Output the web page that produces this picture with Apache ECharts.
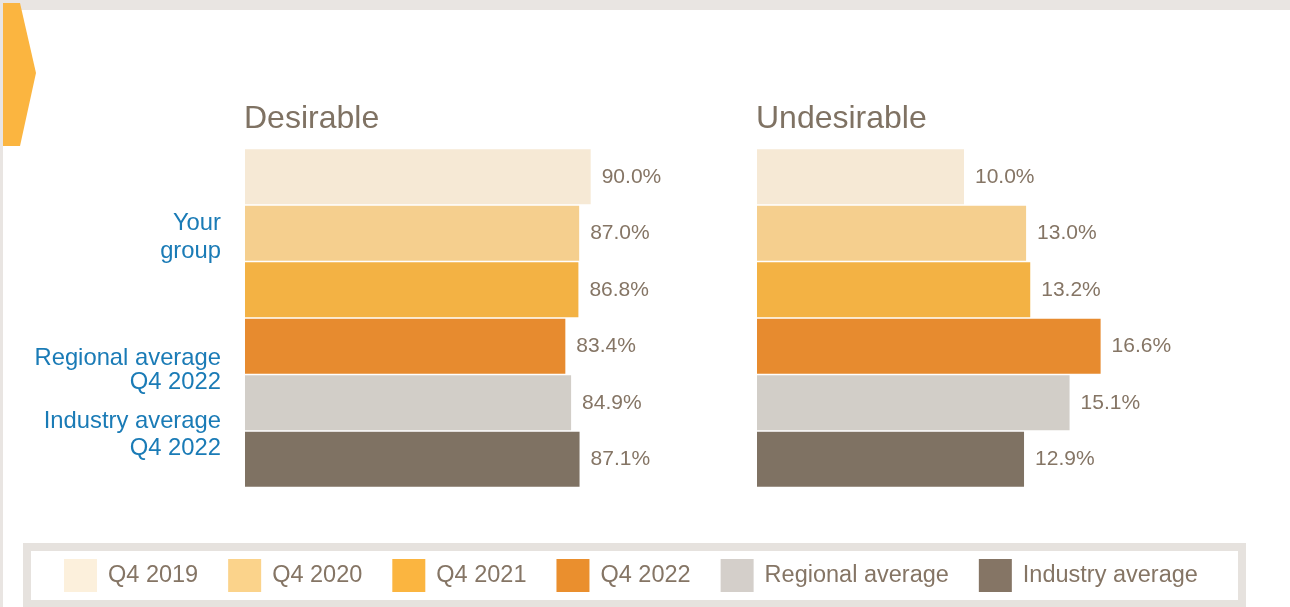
<!DOCTYPE html>
<html><head><meta charset="utf-8">
<script src="https://cdn.jsdelivr.net/npm/echarts@6/dist/echarts.min.js"></script>
<style>html,body{margin:0;padding:0;background:#fff}#c{width:1290px;height:607px}</style>
</head><body><div id="c"></div>
<script>
// ---- data ----
const groups = ['Q4 2019', 'Q4 2020', 'Q4 2021', 'Q4 2022', 'Regional average', 'Industry average'];
const desirable = [90.0, 87.0, 86.8, 83.4, 84.9, 87.1];
const undesirable = [10.0, 13.0, 13.2, 16.6, 15.1, 12.9];
const panelTitles = ['Desirable', 'Undesirable'];
const rowLabelText = ['', 'Your\ngroup', '', '', 'Regional average\nQ4 2022', 'Industry average\nQ4 2022'];

// ---- styles ----
const barColors = ['#f6e9d5', '#f5cf8e', '#f3b244', '#e78b2f', '#d2cec8', '#7f7263'];
const legendColors = ['#fcf0dc', '#fbd38b', '#fbb540', '#ea8f2e', '#d4cfca', '#857565'];
const textBrown = '#857565';
const labelBlue = '#1a7bb6';
const sans = "'Liberation Sans',Arial,sans-serif";

const chart = echarts.init(document.getElementById('c'), null, {renderer: 'canvas'});

function rowLabel(v, idx) {
  const t = rowLabelText[idx];
  if (!t) return '';
  const lines = t.split('\n');
  if (idx === 1) return '{s1| }\n' + lines.map(l => '{y|' + l + '}').join('\n');
  if (idx === 4) return '{s| }\n' + lines.map(l => '{r|' + l + '}').join('\n') + '\n{r| }\n{r| }\n{r| }';
  if (idx === 5) return '{s| }\n' + lines.map(l => '{i|' + l + '}').join('\n') + '\n{i| }\n{i| }';
  return '';
}

function makeSeries(values, axisIdx) {
  return groups.map((g, i) => ({
    type: 'bar',
    name: g,
    stack: 'p' + axisIdx,
    xAxisIndex: axisIdx,
    yAxisIndex: axisIdx,
    barCategoryGap: '3%',
    itemStyle: {color: barColors[i]},
    label: {
      show: true, position: 'right', distance: 11,
      fontFamily: sans, fontSize: 21, color: textBrown,
      padding: [4, 0, 0, 0],
      formatter: p => p.value.toFixed(1) + '%'
    },
    data: values.map((v, j) => (j === i ? v : '-'))
  }));
}

const gridTop = 148.5, gridH = 339;

const option = {
  backgroundColor: '#e9e5e2',
  animation: false,
  title: [
    {text: panelTitles[0], left: 244, top: 103, padding: 0,
     textStyle: {fontFamily: sans, fontSize: 32, fontWeight: 'normal', color: '#7f7263', lineHeight: 32}},
    {text: panelTitles[1], left: 756, top: 103, padding: 0,
     textStyle: {fontFamily: sans, fontSize: 32, fontWeight: 'normal', color: '#7f7263', lineHeight: 32}}
  ],
  graphic: [
    {type: 'rect', z: -10, silent: true, shape: {x: 3, y: 10, width: 1287, height: 597}, style: {fill: '#ffffff'}},
    {type: 'polygon', z: -5, silent: true,
     shape: {points: [[3, 3], [20, 3], [36, 73], [20, 146], [3, 146]]}, style: {fill: '#fbb540'}},
    {type: 'rect', z: -5, silent: true, shape: {x: 27, y: 547, width: 1215, height: 57},
     style: {fill: '#ffffff', stroke: '#e6e2de', lineWidth: 8}}
  ],
  legend: {
    left: 64, top: 559, padding: 0,
    itemWidth: 33, itemHeight: 33, itemGap: 30,
    icon: 'rect',
    selectedMode: false,
    textStyle: {fontFamily: sans, fontSize: 23.5, color: textBrown, padding: [6, 0, 0, 6]},
    data: groups.map((g, i) => ({name: g, itemStyle: {color: legendColors[i]}}))
  },
  grid: [
    {left: 245, top: gridTop, width: 384.1, height: gridH, containLabel: false},
    {left: 757, top: gridTop, width: 414, height: gridH, containLabel: false}
  ],
  xAxis: [
    {gridIndex: 0, type: 'value', min: 0, max: 100, show: false},
    {gridIndex: 1, type: 'value', min: 0, max: 20, show: false}
  ],
  yAxis: [
    {gridIndex: 0, type: 'category', inverse: true, data: groups,
     axisLine: {show: false}, axisTick: {show: false}, splitLine: {show: false},
     axisLabel: {
       show: true, margin: 24, interval: 0, formatter: rowLabel,
       rich: {
         s1: {fontSize: 4, lineHeight: 9},
         s: {fontSize: 4, lineHeight: 6},
         y: {fontFamily: sans, fontSize: 23.8, lineHeight: 28, color: labelBlue, align: 'right'},
         r: {fontFamily: sans, fontSize: 23.8, lineHeight: 23.5, color: labelBlue, align: 'right'},
         i: {fontFamily: sans, fontSize: 23.8, lineHeight: 27, color: labelBlue, align: 'right'}
       }
     }},
    {gridIndex: 1, type: 'category', inverse: true, data: groups,
     axisLine: {show: false}, axisTick: {show: false}, axisLabel: {show: false}, splitLine: {show: false}}
  ],
  series: [...makeSeries(desirable, 0), ...makeSeries(undesirable, 1)]
};
chart.setOption(option);
</script></body></html>
